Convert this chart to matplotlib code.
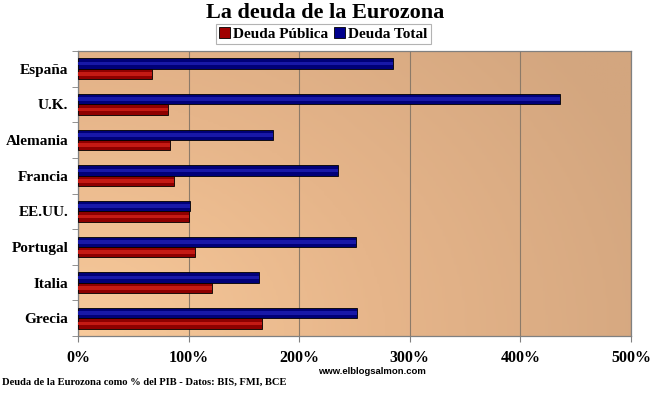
import numpy as np
import matplotlib.pyplot as plt
from matplotlib.colors import LinearSegmentedColormap
from matplotlib.patches import Patch

paises = ['España', 'U.K.', 'Alemania', 'Francia', 'EE.UU.', 'Portugal', 'Italia', 'Grecia']
deuda_publica = [67, 81, 83, 87, 100, 106, 121, 166]
deuda_total = [285, 436, 176, 235, 101, 251, 164, 252]
ticks_x = [0, 100, 200, 300, 400, 500]

serif = ['Liberation Serif', 'DejaVu Serif']

fig = plt.figure(figsize=(6.5, 3.96), dpi=100)
fig.patch.set_facecolor('white')
ax = fig.add_axes([78 / 650, 1 - 336 / 396, (631 - 78) / 650, (336 - 51) / 396])

# fondo degradado
gx, gy = np.meshgrid(np.linspace(0, 1, 200), np.linspace(0, 1, 120))
grad = np.clip(np.sqrt((gx * 0.9) ** 2 + (gy * 0.6) ** 2), 0, 1)
cmap = LinearSegmentedColormap.from_list('fondo', ['#F8CA9B', '#E6B58A', '#D3A67F'])
ax.imshow(grad, cmap=cmap, extent=[0, 500, len(paises) - 0.5, -0.5], aspect='auto',
          origin='lower', zorder=0)

y = np.arange(len(paises))
h = 0.29
ax.barh(y - h / 2, deuda_total, height=h, color='#000078', edgecolor='black', linewidth=0.6, zorder=3)
ax.barh(y - h / 2, deuda_total, height=h * 0.35, color='#1818A8', linewidth=0, zorder=4)
ax.barh(y + h / 2, deuda_publica, height=h, color='#8E0000', edgecolor='black', linewidth=0.6, zorder=3)
ax.barh(y + h / 2, deuda_publica, height=h * 0.35, color='#C41A14', linewidth=0, zorder=4)

ax.set_xlim(0, 500)
ax.set_ylim(len(paises) - 0.5, -0.5)
ax.set_xticks(ticks_x)
ax.set_xticklabels([str(t) + '%' for t in ticks_x], family=serif, fontweight='bold', fontsize=11.5)
ax.set_yticks(y)
ax.set_yticklabels(paises, family=serif, fontweight='bold', fontsize=11)
ax.set_yticks(np.arange(len(paises) + 1) - 0.5, minor=True)
ax.tick_params(axis='y', which='major', length=0, pad=7)
ax.tick_params(axis='y', which='minor', length=4, color='#808080')
ax.tick_params(axis='x', length=4, color='#808080', pad=6)
ax.grid(axis='x', color='#8C7A68', linewidth=0.8, zorder=1)
for s in ax.spines.values():
    s.set_color('#808080')
    s.set_linewidth(0.9)

fig.text(0.5, 1 - 13 / 396, 'La deuda de la Eurozona', ha='center', va='center',
         family=serif, fontweight='bold', fontsize=16)

handles = [Patch(facecolor='#A00000', edgecolor='black', linewidth=0.6),
           Patch(facecolor='#00008C', edgecolor='black', linewidth=0.6)]
leg = fig.legend(handles, ['Deuda Pública', 'Deuda Total'], loc='center',
                 bbox_to_anchor=(323.5 / 650, 1 - 34 / 396), ncol=2, frameon=True,
                 fancybox=False, prop={'family': serif, 'weight': 'bold', 'size': 11},
                 handlelength=0.7, handleheight=0.7, handletextpad=0.2, columnspacing=0.4,
                 borderpad=0.2, borderaxespad=0)
leg.get_frame().set_edgecolor('#A0A0A0')
leg.get_frame().set_linewidth(0.8)

fig.text(372 / 650, 1 - 372 / 396, 'www.elblogsalmon.com', ha='center', va='center',
         family='Liberation Sans', fontweight='bold', fontsize=6.8)
fig.text(2 / 650, 1 - 382 / 396, 'Deuda de la Eurozona como % del PIB - Datos: BIS, FMI, BCE',
         ha='left', va='center', family=serif, fontweight='bold', fontsize=7.6)

fig.savefig('out.png', dpi=100)
